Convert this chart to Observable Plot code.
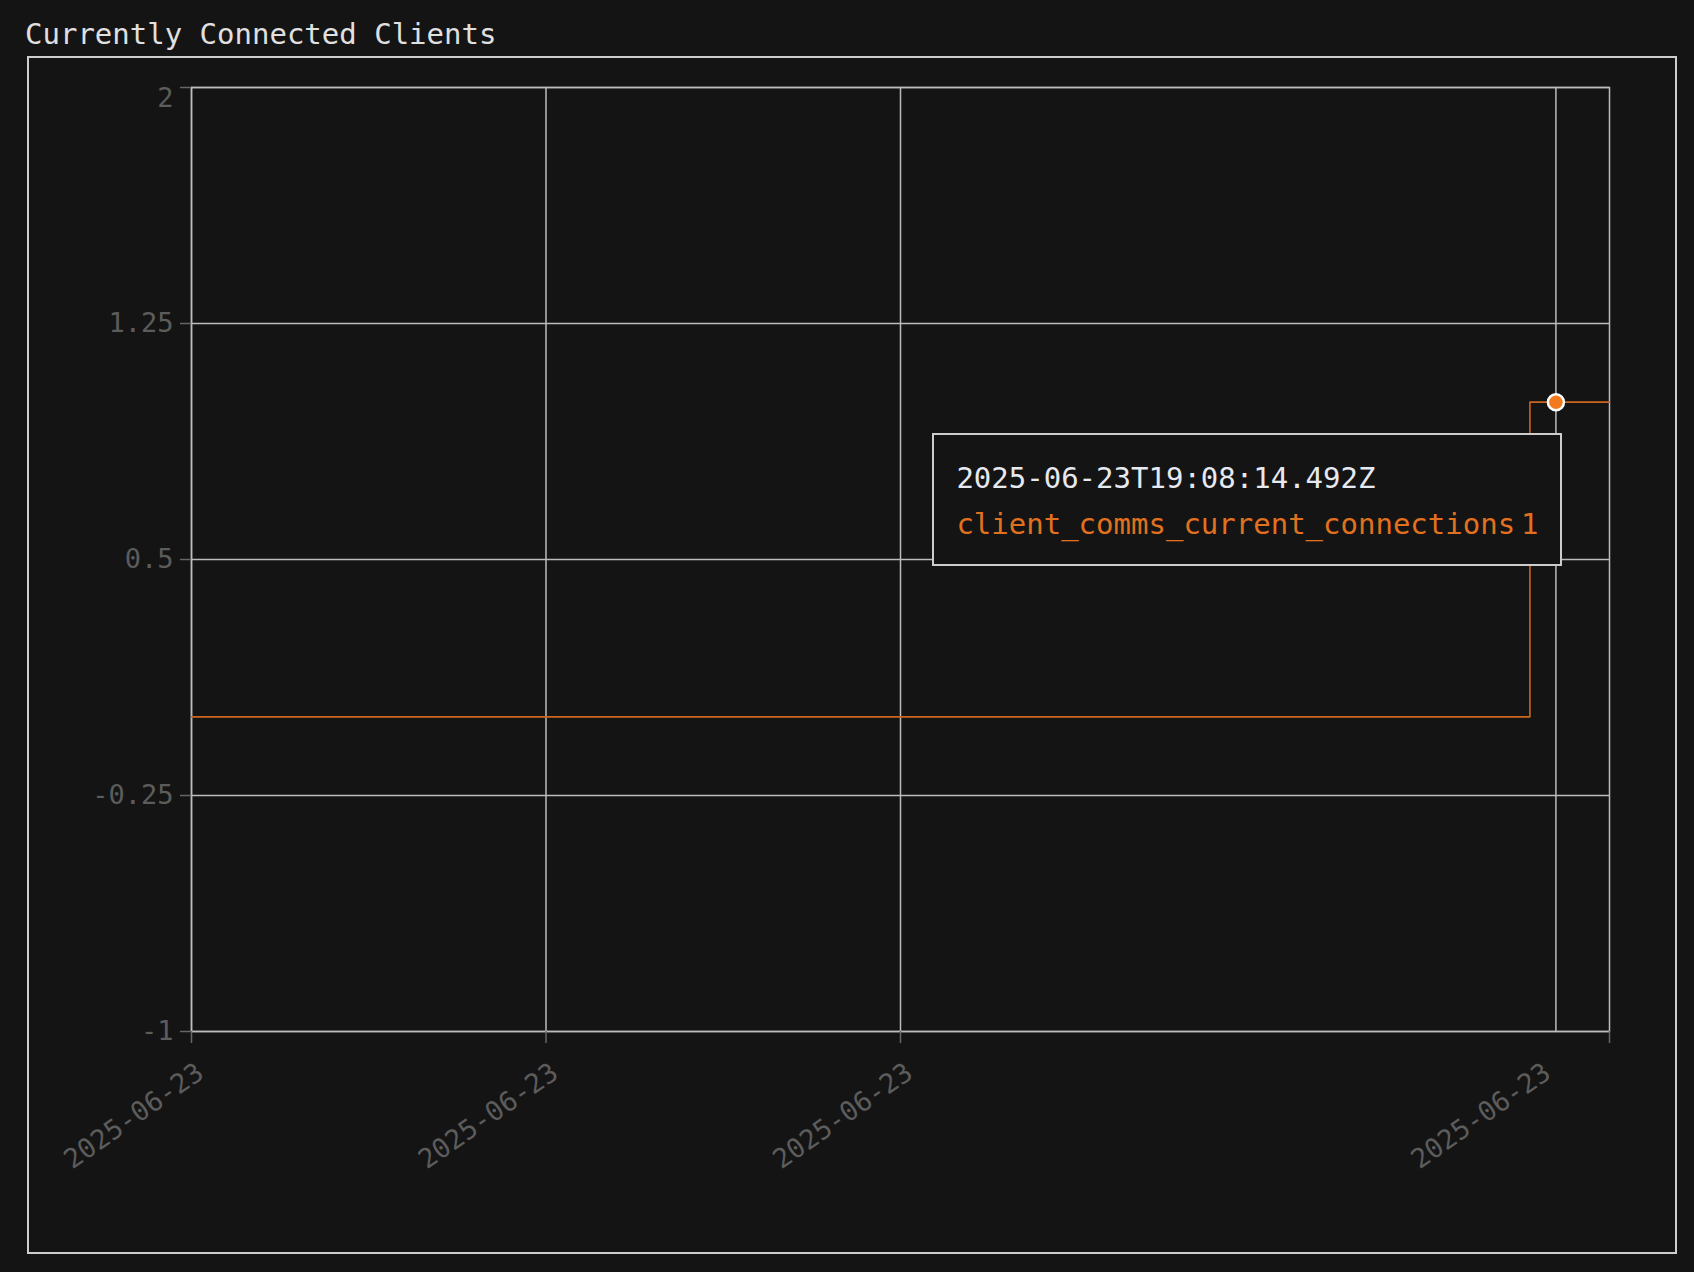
<!DOCTYPE html>
<html>
<head>
<meta charset="utf-8">
<script src="https://cdn.jsdelivr.net/npm/d3@7"></script>
<script src="https://cdn.jsdelivr.net/npm/@observablehq/plot@0.6"></script>
<style>
  html, body { margin: 0; padding: 0; background: #141414; width: 1694px; height: 1272px; overflow: hidden; }
  body { position: relative; font-family: "DejaVu Sans Mono", monospace; }
  #title { position: absolute; left: 25px; top: 20px; font-size: 29px; line-height: 29px; color: #e0e0e0; white-space: nowrap; }
  #panel { position: absolute; left: 27px; top: 56px; width: 1650px; height: 1198px; border: 2px solid #cdcdcd; box-sizing: border-box; }
  #chart { position: absolute; left: 0; top: 0; }
  #tip { position: absolute; background: #141414; border: 2px solid #cdcdcd; padding: 20px 21px 17px 22px; font-size: 29px; line-height: 46px; white-space: nowrap; }
  #tip .time { color: #e6e9ef; }
  #tip .row { display: flex; gap: 6px; color: #e2711f; }
</style>
</head>
<body>
<div id="title"></div>
<div id="panel"></div>
<div id="chart"></div>
<div id="tip"></div>
<script>
// ---- data ----
const chartTitle = "Currently Connected Clients";
const seriesName = "client_comms_current_connections";
const sampleTimes = ["2025-06-23T18:53:48.500Z", "2025-06-23T19:07:58.000Z", "2025-06-23T19:08:14.492Z", "2025-06-23T19:08:48.500Z"];
const sampleValues = [0, 1, 1, 1];
const hoverTime = "2025-06-23T19:08:14.492Z";
const hoverValue = 1;
const xDomain = ["2025-06-23T18:53:48.500Z", "2025-06-23T19:08:48.500Z"];
const yDomain = [-1, 2];
const yTicks = [-1, -0.25, 0.5, 1.25, 2];
const xTickTimes = ["2025-06-23T18:53:48.500Z", "2025-06-23T18:57:33.500Z", "2025-06-23T19:01:18.500Z", "2025-06-23T19:08:48.500Z"];
const xGridTimes = ["2025-06-23T18:53:48.500Z", "2025-06-23T18:57:33.500Z", "2025-06-23T19:01:18.500Z"];
const xLabelTimes = ["2025-06-23T18:53:48.500Z", "2025-06-23T18:57:33.500Z", "2025-06-23T19:01:18.500Z", "2025-06-23T19:08:03.500Z"];

// ---- build ----
const series = sampleTimes.map((t, i) => ({time: new Date(t), value: sampleValues[i]}));
const hover = [{time: new Date(hoverTime), value: hoverValue}];
const fmtDay = d3.utcFormat("%Y-%m-%d");
const yMax = d3.max(yTicks);

document.getElementById("title").textContent = chartTitle;

const gridColor = "#bcbcbc";
const axisColor = "#5c5c5c";

const chart = Plot.plot({
  width: 1694,
  height: 1272,
  marginLeft: 191,
  marginRight: 85,
  marginTop: 87,
  marginBottom: 241,
  style: {background: "transparent", fontFamily: "DejaVu Sans Mono, monospace", fontSize: "27px", color: axisColor, overflow: "visible"},
  x: {type: "utc", domain: xDomain.map(d => new Date(d)), label: null},
  y: {type: "linear", domain: yDomain, label: null},
  marks: [
    Plot.gridY(yTicks, {stroke: gridColor, strokeOpacity: 1, strokeWidth: 1.5}),
    Plot.gridX(xGridTimes.map(d => new Date(d)), {stroke: gridColor, strokeOpacity: 1, strokeWidth: 1.5}),
    Plot.ruleX(hover, {x: "time", stroke: gridColor, strokeWidth: 1.5}),
    Plot.frame({stroke: gridColor, strokeWidth: 1.5}),
    Plot.axisY(yTicks.filter(d => d !== yMax), {label: null, tickSize: 11, tickPadding: 7, tickFormat: d => String(d), stroke: "#666", strokeWidth: 1.5, fill: axisColor, fontSize: 27}),
    Plot.axisY([yMax], {label: null, tickSize: 11, tickFormat: null, text: null, stroke: "#666", strokeWidth: 1.5}),
    Plot.text([yMax], {y: d => d, frameAnchor: "left", text: d => String(d), textAnchor: "end", dx: -18, dy: 11, fill: axisColor, fontSize: 27}),
    Plot.axisX(xTickTimes.map(d => new Date(d)), {label: null, tickSize: 12, tickFormat: () => "", stroke: "#666", strokeWidth: 1.5}),
    Plot.text(xLabelTimes.map(d => new Date(d)), {
      x: d => d, frameAnchor: "bottom", text: d => fmtDay(d),
      rotate: -35, textAnchor: "end", lineAnchor: "middle",
      dx: 9, dy: 38, fill: axisColor, fontSize: 27
    }),
    Plot.line(series, {x: "time", y: "value", curve: "step-after", stroke: "#cc651e", strokeWidth: 1.6}),
    Plot.dot(hover, {x: "time", y: "value", r: 8, fill: "#f37a1f", stroke: "#ffffff", strokeWidth: 2.5})
  ]
});
document.getElementById("chart").appendChild(chart);

// tooltip anchored to hovered point via the chart's scales
const px = chart.scale("x").apply(new Date(hoverTime));
const py = chart.scale("y").apply(hoverValue);
const tip = document.getElementById("tip");
const l1 = document.createElement("div");
l1.className = "time";
l1.textContent = hoverTime;
const l2 = document.createElement("div");
l2.className = "row";
const n = document.createElement("span"); n.textContent = seriesName;
const v = document.createElement("span"); v.textContent = String(hoverValue);
l2.appendChild(n); l2.appendChild(v);
tip.appendChild(l1); tip.appendChild(l2);
tip.style.top = (py + 31) + "px";
tip.style.left = (px + 6 - tip.offsetWidth) + "px";
</script>
</body>
</html>
